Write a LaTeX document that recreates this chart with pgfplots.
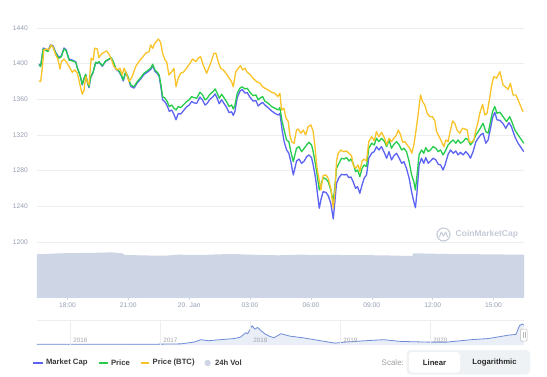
\documentclass[border=0pt]{standalone}
\usepackage{fontspec}
\setmainfont{Liberation Sans}
\usepackage{pgfplots}
\pgfplotsset{compat=1.18}
\definecolor{mcap}{RGB}{92,99,242}
\definecolor{price}{RGB}{38,204,76}
\definecolor{pbtc}{RGB}{250,195,40}
\definecolor{vol}{RGB}{206,213,228}
\definecolor{gridc}{RGB}{236,238,242}
\definecolor{lab}{RGB}{150,158,178}
\definecolor{labn}{RGB}{165,165,170}
\definecolor{axc}{RGB}{204,214,235}
\definecolor{navline}{RGB}{108,138,214}
\definecolor{navfill}{RGB}{234,238,247}
\definecolor{legtxt}{RGB}{58,58,58}
\definecolor{wm}{RGB}{198,203,216}
\definecolor{btnbg}{RGB}{239,242,245}
\begin{document}
\begin{tikzpicture}
\useasboundingbox[fill=white] (0,0) rectangle (547pt,376pt);
% ---------------- main price axis ----------------
\begin{axis}[at={(37pt,134pt)}, anchor=south west, scale only axis,
  width=487pt, height=223pt, xmin=0, xmax=24, ymin=1200, ymax=1450,
  axis line style={draw=none}, xtick=\empty,
  ytick={1200,1240,1280,1320,1360,1400,1440},
  yticklabels={1200,1240,1280,1320,1360,1400,1440},
  ymajorgrids, grid style={gridc, line width=0.6pt}, major tick length=0pt,
  yticklabel style={font=\fontsize{6.7}{8}\selectfont, text=lab, anchor=east, inner sep=0pt, xshift=-9pt},
  every axis plot/.append style={line width=1.3pt, line join=round}]
\addplot[mcap] table {
0.10 1399.5
0.18 1397.6
0.31 1417.5
0.54 1414.4
0.67 1421.0
0.79 1420.0
0.92 1412.6
1.08 1407.0
1.20 1408.8
1.33 1417.5
1.44 1415.2
1.58 1405.0
1.74 1404.0
1.91 1402.0
1.99 1395.0
2.12 1387.0
2.23 1376.0
2.32 1383.0
2.40 1387.5
2.48 1379.0
2.56 1373.0
2.65 1384.5
2.77 1390.5
2.89 1401.0
2.97 1400.0
3.05 1401.7
3.22 1397.0
3.38 1402.5
3.55 1404.7
3.66 1406.2
3.76 1401.5
3.88 1394.0
4.04 1391.0
4.15 1386.5
4.25 1380.5
4.37 1390.0
4.48 1384.5
4.62 1374.5
4.78 1372.5
4.94 1378.3
5.11 1382.8
5.27 1387.7
5.43 1390.3
5.60 1393.3
5.70 1397.8
5.81 1391.4
5.93 1388.8
6.02 1385.5
6.11 1373.0
6.19 1359.5
6.31 1357.0
6.42 1352.5
6.52 1346.5
6.64 1348.0
6.75 1343.0
6.85 1337.0
6.96 1344.0
7.08 1343.5
7.21 1347.0
7.37 1351.5
7.50 1353.5
7.62 1357.5
7.73 1356.0
7.87 1355.5
8.03 1362.5
8.16 1359.0
8.28 1353.5
8.39 1355.5
8.52 1360.0
8.68 1363.0
8.78 1366.0
8.88 1361.0
8.98 1355.0
9.10 1359.5
9.21 1355.5
9.34 1351.0
9.47 1345.0
9.59 1346.0
9.67 1342.0
9.75 1346.0
9.87 1362.0
10.00 1369.0
10.11 1371.0
10.25 1367.0
10.36 1367.5
10.49 1362.5
10.65 1358.0
10.79 1358.5
10.90 1352.5
11.02 1355.0
11.12 1356.5
11.23 1353.6
11.39 1350.6
11.56 1347.0
11.72 1344.3
11.89 1342.4
11.97 1344.3
12.08 1325.6
12.18 1312.5
12.30 1303.2
12.41 1299.5
12.51 1290.1
12.63 1275.2
12.71 1282.6
12.79 1290.8
12.91 1293.0
13.04 1288.2
13.17 1290.8
13.29 1295.7
13.40 1297.6
13.53 1294.6
13.61 1286.4
13.73 1271.4
13.83 1252.7
13.91 1237.8
13.99 1247.1
14.10 1256.4
14.24 1255.6
14.35 1252.0
14.48 1243.4
14.60 1225.8
14.68 1245.2
14.76 1265.8
14.88 1272.1
15.01 1275.9
15.14 1275.2
15.26 1275.9
15.37 1272.1
15.47 1273.0
15.58 1267.6
15.70 1260.2
15.80 1262.0
15.91 1254.6
16.02 1264.0
16.12 1271.4
16.24 1275.2
16.35 1293.9
16.49 1299.5
16.62 1301.3
16.73 1306.9
16.85 1303.2
16.98 1306.9
17.13 1299.5
17.23 1293.9
17.35 1301.3
17.47 1292.0
17.59 1296.8
17.72 1299.5
17.85 1293.9
17.97 1288.2
18.08 1290.1
18.21 1282.6
18.34 1271.4
18.46 1256.4
18.57 1245.2
18.65 1238.5
18.73 1256.4
18.83 1286.4
18.95 1293.9
19.06 1288.2
19.16 1294.6
19.28 1288.2
19.39 1290.8
19.52 1293.9
19.66 1292.0
19.77 1287.1
19.89 1286.4
20.01 1280.7
20.11 1286.4
20.26 1298.3
20.38 1303.2
20.51 1299.5
20.64 1302.0
20.75 1297.6
20.87 1300.5
21.00 1297.6
21.13 1301.3
21.25 1298.3
21.36 1293.9
21.49 1301.3
21.63 1312.5
21.74 1316.3
21.86 1320.0
21.98 1321.9
22.12 1310.7
22.23 1314.4
22.35 1327.5
22.45 1339.4
22.56 1345.4
22.67 1336.8
22.81 1336.5
22.96 1333.0
23.10 1327.5
23.26 1333.8
23.38 1329.3
23.55 1318.0
23.71 1310.7
23.88 1305.0
23.99 1301.3
};
\addplot[price] table {
0.10 1398.5
0.18 1396.6
0.31 1416.5
0.54 1413.4
0.67 1420.0
0.79 1419.0
0.92 1411.6
1.08 1406.0
1.20 1407.8
1.33 1416.5
1.44 1414.2
1.58 1404.0
1.74 1403.0
1.91 1401.5
1.99 1394.8
2.12 1387.3
2.23 1376.8
2.32 1383.6
2.40 1388.0
2.48 1379.8
2.56 1374.0
2.65 1385.4
2.77 1391.0
2.89 1401.5
2.97 1400.4
3.05 1402.2
3.22 1397.7
3.38 1403.0
3.55 1405.2
3.66 1406.7
3.76 1402.2
3.88 1394.8
4.04 1391.8
4.15 1387.3
4.25 1381.7
4.37 1391.0
4.48 1385.4
4.62 1376.0
4.78 1374.0
4.94 1379.8
5.11 1384.3
5.27 1389.2
5.43 1391.8
5.60 1394.8
5.70 1399.3
5.81 1392.9
5.93 1390.3
6.02 1387.3
6.11 1376.0
6.19 1363.0
6.31 1361.2
6.42 1357.4
6.52 1351.8
6.64 1353.6
6.75 1350.0
6.85 1348.0
6.96 1351.8
7.08 1350.6
7.21 1353.6
7.37 1357.4
7.50 1359.3
7.62 1363.0
7.73 1361.9
7.87 1361.2
8.03 1367.9
8.16 1364.9
8.28 1359.3
8.39 1361.2
8.52 1365.6
8.68 1368.6
8.78 1371.6
8.88 1366.8
8.98 1361.2
9.10 1365.6
9.21 1361.9
9.34 1357.4
9.47 1351.8
9.59 1353.6
9.67 1349.2
9.75 1352.9
9.87 1366.8
10.00 1372.4
10.11 1374.0
10.25 1371.6
10.36 1372.4
10.49 1367.9
10.65 1364.1
10.79 1364.9
10.90 1359.3
11.02 1361.9
11.12 1363.0
11.23 1357.8
11.39 1355.6
11.56 1351.8
11.72 1350.0
11.89 1348.0
11.97 1350.6
12.08 1335.0
12.18 1325.6
12.30 1314.4
12.41 1312.5
12.51 1301.3
12.63 1290.1
12.71 1297.6
12.79 1305.1
12.91 1306.9
13.04 1301.3
13.17 1305.1
13.29 1308.8
13.40 1311.8
13.53 1308.8
13.61 1301.3
13.73 1286.4
13.83 1271.4
13.91 1258.3
13.99 1264.0
14.10 1272.1
14.24 1270.6
14.35 1267.6
14.48 1258.3
14.60 1245.2
14.68 1262.0
14.76 1282.6
14.88 1288.2
15.01 1293.9
15.14 1293.1
15.26 1294.6
15.37 1290.8
15.47 1293.0
15.58 1288.2
15.70 1278.8
15.80 1280.7
15.91 1273.3
16.02 1282.6
16.12 1286.4
16.24 1284.5
16.35 1305.1
16.49 1310.7
16.62 1308.8
16.73 1316.3
16.85 1312.5
16.98 1316.3
17.13 1312.5
17.23 1306.9
17.35 1314.4
17.47 1305.1
17.59 1309.6
17.72 1312.5
17.85 1308.8
17.97 1303.2
18.08 1305.1
18.21 1301.3
18.34 1290.1
18.46 1275.2
18.57 1267.6
18.65 1258.3
18.73 1275.2
18.83 1297.6
18.95 1303.2
19.06 1299.5
19.16 1305.8
19.28 1301.3
19.39 1303.2
19.52 1306.9
19.66 1305.1
19.77 1301.3
19.89 1303.2
20.01 1297.6
20.11 1301.3
20.26 1308.8
20.38 1311.8
20.51 1314.4
20.64 1310.7
20.75 1314.4
20.87 1310.7
21.00 1312.5
21.13 1316.3
21.25 1314.4
21.36 1308.8
21.49 1312.5
21.63 1320.0
21.74 1323.7
21.86 1328.2
21.98 1333.1
22.12 1323.7
22.23 1322.0
22.35 1335.0
22.45 1346.1
22.56 1351.8
22.67 1344.3
22.81 1345.5
22.97 1340.5
23.14 1335.0
23.30 1340.5
23.38 1336.0
23.55 1325.6
23.71 1320.0
23.88 1314.4
23.99 1310.7
};
\addplot[pbtc] table {
0.10 1380.6
0.18 1379.8
0.26 1394.8
0.34 1415.3
0.48 1416.5
0.59 1415.3
0.70 1421.0
0.80 1418.0
0.92 1409.7
1.03 1405.2
1.13 1394.0
1.20 1402.0
1.33 1405.2
1.49 1400.4
1.63 1394.8
1.74 1390.3
1.86 1392.9
1.99 1389.2
2.12 1376.0
2.23 1365.6
2.32 1370.5
2.40 1385.4
2.48 1379.8
2.56 1376.0
2.67 1406.0
2.77 1404.0
2.84 1417.2
2.97 1416.5
3.05 1406.7
3.17 1410.5
3.30 1412.7
3.43 1414.2
3.55 1410.5
3.66 1405.2
3.79 1396.6
3.96 1392.9
4.09 1394.8
4.20 1387.3
4.29 1394.8
4.42 1388.0
4.53 1379.8
4.69 1385.4
4.86 1396.6
5.02 1402.2
5.19 1406.7
5.35 1411.6
5.52 1413.4
5.60 1421.0
5.70 1417.2
5.81 1422.8
5.98 1427.6
6.09 1424.0
6.19 1411.6
6.31 1404.0
6.39 1402.2
6.50 1387.3
6.64 1391.0
6.75 1394.8
6.85 1374.0
6.96 1383.6
7.08 1389.2
7.21 1390.3
7.37 1394.8
7.54 1400.4
7.67 1405.2
7.83 1402.2
7.95 1406.0
8.06 1407.8
8.19 1398.5
8.36 1389.2
8.49 1396.6
8.61 1404.0
8.72 1411.6
8.82 1411.6
8.93 1402.2
9.05 1394.8
9.18 1392.9
9.31 1389.2
9.47 1383.6
9.59 1379.8
9.67 1374.0
9.80 1391.0
9.92 1394.8
10.03 1397.7
10.13 1392.9
10.25 1394.8
10.36 1390.3
10.49 1388.0
10.65 1383.6
10.82 1379.8
10.99 1378.0
11.12 1374.0
11.23 1372.4
11.39 1370.5
11.56 1367.9
11.72 1366.8
11.86 1363.0
11.97 1366.8
12.05 1348.0
12.17 1350.0
12.27 1338.8
12.38 1335.0
12.46 1320.0
12.55 1312.5
12.67 1310.7
12.79 1325.6
12.87 1326.7
13.01 1321.9
13.12 1325.6
13.24 1320.0
13.36 1329.3
13.50 1331.2
13.61 1323.7
13.69 1308.8
13.78 1286.4
13.89 1271.4
13.99 1258.3
14.10 1274.4
14.24 1275.2
14.35 1271.4
14.48 1260.2
14.60 1237.8
14.68 1256.4
14.76 1290.1
14.84 1299.5
14.98 1303.2
15.09 1301.3
15.26 1302.0
15.37 1299.5
15.50 1296.8
15.58 1286.4
15.70 1282.6
15.83 1286.4
15.91 1278.8
16.02 1290.8
16.12 1293.0
16.24 1290.8
16.35 1312.5
16.49 1318.1
16.62 1313.3
16.73 1323.7
16.85 1318.1
16.98 1323.0
17.13 1316.3
17.23 1308.8
17.35 1316.3
17.47 1312.5
17.59 1316.3
17.72 1320.0
17.80 1325.6
17.92 1320.0
18.02 1311.8
18.13 1312.5
18.24 1308.8
18.37 1305.1
18.47 1299.5
18.57 1308.8
18.67 1323.7
18.78 1342.4
18.90 1364.9
19.00 1357.4
19.11 1353.6
19.23 1344.3
19.36 1340.5
19.49 1340.5
19.61 1335.7
19.69 1323.7
19.82 1318.1
19.94 1312.5
20.05 1306.9
20.15 1314.4
20.26 1312.5
20.38 1325.6
20.48 1335.7
20.59 1333.1
20.70 1325.6
20.84 1321.9
20.97 1327.5
21.08 1326.7
21.20 1325.6
21.30 1312.5
21.41 1311.8
21.53 1314.4
21.63 1325.6
21.74 1335.0
21.82 1344.3
21.96 1354.4
22.07 1342.4
22.18 1344.3
22.32 1363.0
22.41 1376.0
22.51 1385.4
22.65 1383.6
22.81 1391.0
22.97 1376.0
23.10 1373.5
23.22 1371.2
23.33 1378.0
23.46 1364.9
23.60 1364.9
23.71 1359.3
23.83 1352.5
23.95 1346.1
};
\end{axis}
% ---------------- volume axis ----------------
\begin{axis}[at={(37pt,79pt)}, anchor=south west, scale only axis,
  width=487pt, height=44pt, xmin=0, xmax=24, ymin=0, ymax=44,
  axis y line=none, axis x line*=bottom, x axis line style={draw=axc, line width=0.6pt},
  xtick={1.5,4.5,7.5,10.5,13.5,16.5,19.5,22.5},
  xticklabels={18:00,21:00,20. Jan,03:00,06:00,09:00,12:00,15:00},
  tick align=outside, major tick length=3pt, xtick style={draw=axc, line width=0.6pt},
  xticklabel style={font=\fontsize{6.7}{8}\selectfont, text=lab, inner sep=1pt, yshift=-1.5pt}]
\addplot[fill=vol, draw=none] table {
0.00 42.7
1.13 43.7
3.10 44.3
3.65 44.7
4.20 43.7
4.33 42.0
5.50 41.5
6.30 41.3
7.00 42.3
8.00 42.0
9.00 42.7
9.65 43.0
10.50 42.3
11.90 41.7
12.90 42.3
14.90 42.0
16.90 41.7
18.50 41.0
18.55 43.7
20.20 43.0
22.10 42.7
24.00 42.3
} \closedcycle;
\end{axis}
% ---------------- navigator ----------------
\begin{axis}[at={(37pt,31pt)}, anchor=south west, scale only axis, axis on top,
  width=487pt, height=24.5pt, xmin=2015.63, xmax=2021.04, ymin=0, ymax=171.5,
  axis line style={draw=none}, ytick=\empty,
  xtick={2016,2017,2018,2019,2020}, xticklabels={2016,2017,2018,2019,2020},
  xmajorgrids, grid style={gridc, line width=0.6pt}, major tick length=0pt,
  xticklabel style={font=\fontsize{6.3}{7}\selectfont, text=labn, anchor=south west, inner sep=0pt, xshift=2.8pt, yshift=2.2pt}]
\addplot[fill=navfill, draw=none] table {
2015.63 5
2016.00 5
2016.50 5
2017.00 6
2017.23 8
2017.38 21
2017.45 37
2017.54 30
2017.66 37
2017.82 45
2017.89 55
2017.95 86
2017.97 79
2018.02 135
2018.05 111
2018.08 123
2018.13 94
2018.16 79
2018.21 62
2018.26 50
2018.34 79
2018.44 62
2018.59 50
2018.78 30
2018.94 13
2019.05 20
2019.28 30
2019.48 37
2019.67 25
2019.98 20
2020.18 20
2020.45 37
2020.64 45
2020.87 69
2020.95 74
2020.99 135
2021.02 147
2021.04 140
} \closedcycle;
\addplot[navline, line width=0.8pt, line join=round] table {
2015.63 5
2016.00 5
2016.50 5
2017.00 6
2017.23 8
2017.38 21
2017.45 37
2017.54 30
2017.66 37
2017.82 45
2017.89 55
2017.95 86
2017.97 79
2018.02 135
2018.05 111
2018.08 123
2018.13 94
2018.16 79
2018.21 62
2018.26 50
2018.34 79
2018.44 62
2018.59 50
2018.78 30
2018.94 13
2019.05 20
2019.28 30
2019.48 37
2019.67 25
2019.98 20
2020.18 20
2020.45 37
2020.64 45
2020.87 69
2020.95 74
2020.99 135
2021.02 147
2021.04 140
};
\end{axis}
\draw[gridc, line width=0.6pt] (37pt,55.5pt) -- (524pt,55.5pt);
% navigator handle
\draw[fill=white, draw=gray!55, line width=0.5pt, rounded corners=1pt] (520.5pt,35pt) rectangle (527pt,47pt);
\draw[gray!55, line width=0.4pt] (522.8pt,38pt) -- (522.8pt,44pt) (524.7pt,38pt) -- (524.7pt,44pt);
% ---------------- watermark ----------------
\draw[wm, line width=1.1pt] (443.5pt,141.5pt) circle (6.5pt);
\draw[wm, line width=1pt, line join=round] (439.3pt,138.8pt) -- (441.3pt,144pt) -- (443.5pt,139.8pt) -- (445.7pt,144pt) -- (447.7pt,138.8pt);
\node[anchor=west, inner sep=0pt, text=wm, font=\bfseries\fontsize{8.5}{10}\selectfont] at (455.5pt,141.5pt) {CoinMarketCap};
% ---------------- legend ----------------
\begin{scope}[every node/.style={inner sep=0pt, text=legtxt, font=\bfseries\fontsize{7.7}{9}\selectfont}]
\draw[mcap, line width=1.3pt] (33pt,13pt) -- (42.5pt,13pt);
\node[anchor=west] at (45.8pt,13pt) {Market Cap};
\draw[price, line width=1.3pt] (99pt,13pt) -- (107.5pt,13pt);
\node[anchor=west] at (110.8pt,13pt) {Price};
\draw[pbtc, line width=1.3pt] (140.5pt,13pt) -- (149pt,13pt);
\node[anchor=west] at (152.5pt,13pt) {Price (BTC)};
\fill[vol] (207.6pt,13pt) circle (3.2pt);
\node[anchor=west] at (214.8pt,13pt) {24h Vol};
\end{scope}
\node[anchor=west, inner sep=0pt, text=gray!75, font=\fontsize{8}{9}\selectfont] at (381.5pt,13pt) {Scale:};
\fill[btnbg, rounded corners=4pt] (406.5pt,1.5pt) rectangle (530pt,26pt);
\fill[white, rounded corners=3.5pt] (409pt,3.5pt) rectangle (460pt,24pt);
\node[inner sep=0pt, text=black!85, font=\bfseries\fontsize{7.7}{9}\selectfont] at (434.5pt,13pt) {Linear};
\node[inner sep=0pt, text=black!85, font=\bfseries\fontsize{7.7}{9}\selectfont] at (494.5pt,13pt) {Logarithmic};
\end{tikzpicture}
\end{document}
